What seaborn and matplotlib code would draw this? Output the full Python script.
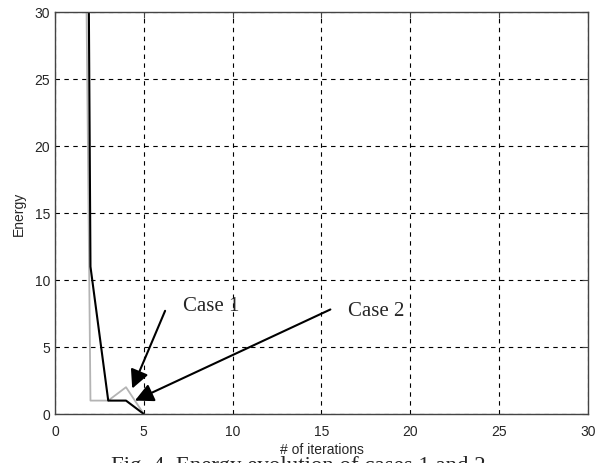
import matplotlib
matplotlib.use("Agg")
import matplotlib.pyplot as plt
import seaborn as sns
import pandas as pd

# energy per iteration
iterations = [1, 2, 3, 4, 5]
energy_case1 = [133, 1, 1, 2, 0]      # gray curve
energy_case2 = [222, 11, 1, 1, 0]     # black curve

x_ticks = [0, 5, 10, 15, 20, 25, 30]
y_ticks = [0, 5, 10, 15, 20, 25, 30]

sns.set_style("white")
plt.rcParams['font.family'] = ['Liberation Sans', 'DejaVu Sans']

df = pd.DataFrame({"it": iterations, "c1": energy_case1, "c2": energy_case2})

fig = plt.figure(figsize=(5.97, 4.64), dpi=100)
ax = fig.add_axes([0.092, 1 - 415 / 464, 0.893, 402 / 464])

sns.lineplot(data=df, x="it", y="c1", ax=ax, color="#b4b4b4", lw=1.3)
sns.lineplot(data=df, x="it", y="c2", ax=ax, color="black", lw=1.5)

ax.set_xlim(0, 30)
ax.set_ylim(0, 30)
ax.set_xticks(x_ticks)
ax.set_yticks(y_ticks)
ax.grid(True, color="black", linestyle=(0, (4, 4)), lw=0.8)
ax.tick_params(direction="in", length=4, labelsize=10, top=True, right=True,
               color="#444444")
ax.tick_params(axis="x", pad=7)
for s in ax.spines.values():
    s.set_color("#444444")
    s.set_linewidth(1.0)

ax.set_xlabel("# of iterations", fontsize=10, labelpad=3)
ax.set_ylabel("Energy", fontsize=10, labelpad=6)

arrow = dict(arrowstyle="-|>", color="black", lw=1.5, mutation_scale=28,
             shrinkA=0, shrinkB=0)
ax.annotate("", xy=(4.35, 1.9), xytext=(6.2, 7.7), arrowprops=arrow)
ax.annotate("", xy=(4.5, 1.0), xytext=(15.5, 7.8), arrowprops=arrow)
ax.text(7.2, 8.1, "Case 1", fontsize=15, family="Liberation Serif", va="center")
ax.text(16.5, 7.7, "Case 2", fontsize=15, family="Liberation Serif", va="center")

# caption, cut off by the bottom edge as in the scan
fig.text(0.5, 1 - 456 / 464, "Fig. 4. Energy evolution of cases 1 and 2",
         fontsize=16.5, family="Liberation Serif", ha="center", va="top")

fig.savefig("out.png", dpi=100)
